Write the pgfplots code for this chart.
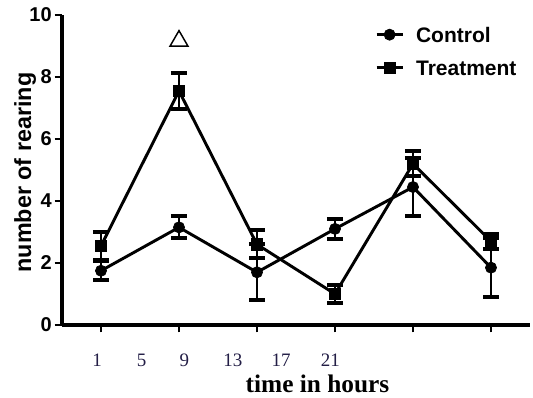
\documentclass[border=0pt]{standalone}
\usepackage{fontspec}
\setmainfont{Liberation Serif}
\setsansfont{Liberation Sans}
\usepackage{pgfplots}
\pgfplotsset{compat=1.18}
\usepackage{pgfplotstable}
\definecolor{navy}{RGB}{35,30,70}

\pgfplotstableread{
x y e
1 1.75 0.30
2 3.15 0.35
3 1.70 0.90
4 3.10 0.33
5 4.45 0.93
6 1.85 0.95
}\control
\pgfplotstableread{
x y e
1 2.55 0.45
2 7.55 0.57
3 2.60 0.45
4 1.00 0.30
5 5.20 0.40
6 2.70 0.25
}\treatment

\begin{document}
\begin{tikzpicture}
\begin{axis}[
  scale only axis, width=351pt, height=232.5pt,
  xmin=0.5, xmax=6.5, ymin=0, ymax=10,
  axis x line*=bottom, axis y line*=left,
  axis line style={line width=2.4pt, -},
  every tick/.style={black, line width=2pt},
  tick align=outside, major tick length=5.5pt,
  xtick={1,2,3,4,5,6}, xticklabels={},
  ytick={0,2,4,6,8,10},
  /pgf/number format/assume math mode=true,
  yticklabel style={font=\sffamily\bfseries\fontsize{15}{17}\selectfont, inner sep=2pt},
  extra x ticks={0.95,1.52,2.07,2.69,3.31,3.94},
  extra x tick labels={1,5,9,13,17,21},
  extra x tick style={major tick length=0pt, xticklabel style={font=\rmfamily\fontsize{14.25}{16}\selectfont, text=navy, anchor=north, yshift=-18.5pt}},
  xlabel={time in hours},
  xlabel style={font=\rmfamily\bfseries\fontsize{19}{21}\selectfont, at={(axis description cs:0.546,0)}, anchor=base, yshift=-50.5pt},
  ylabel={number of rearing},
  ylabel style={font=\sffamily\bfseries\fontsize{17.5}{20}\selectfont, at={(axis description cs:-0.079,0.492)}, anchor=center},
  clip=false,
  legend image code/.code={\draw[#1, mark repeat=2, mark phase=2] plot coordinates {(0pt,0pt)(9.75pt,0pt)(19.5pt,0pt)};},
  legend style={draw=none, fill=none, font=\sffamily\bfseries\fontsize{15.75}{18}\selectfont,
    at={(0.66,0.975)}, anchor=north west, row sep=11.25pt,
    nodes={inner xsep=9pt, inner ysep=1pt, text height=11.5pt, text depth=0pt}},
  legend cell align=left,
]
\coordinate (O) at (rel axis cs:0,0);
\addplot[black, line width=2.2pt, mark=*, mark size=4.2pt,
  mark options={solid, fill=black, line width=0.5pt},
  error bars/.cd, y dir=both, y explicit,
  error bar style={line width=2pt},
  error mark options={rotate=90, line width=3pt, mark size=6pt}]
  table[x=x, y=y, y error=e]{\control};
\addlegendentry{Control}
\addplot[black, line width=2.2pt, mark=square*, mark size=4.3pt,
  mark options={solid, fill=black, line width=0.5pt},
  error bars/.cd, y dir=both, y explicit,
  error bar style={line width=2pt},
  error mark options={rotate=90, line width=3pt, mark size=6pt}]
  table[x=x, y=y, y error=e]{\treatment};
\addlegendentry{Treatment}
\addplot[only marks, mark=triangle, mark size=7.8pt, mark options={line width=1.1pt, solid, black}, forget plot]
  coordinates {(2,9.16)};
\end{axis}
\pgfresetboundingbox
\path[use as bounding box] ([shift={(-46.5pt,-54.75pt)}]O) rectangle ([shift={(353.25pt,243.75pt)}]O);
\end{tikzpicture}
\end{document}
